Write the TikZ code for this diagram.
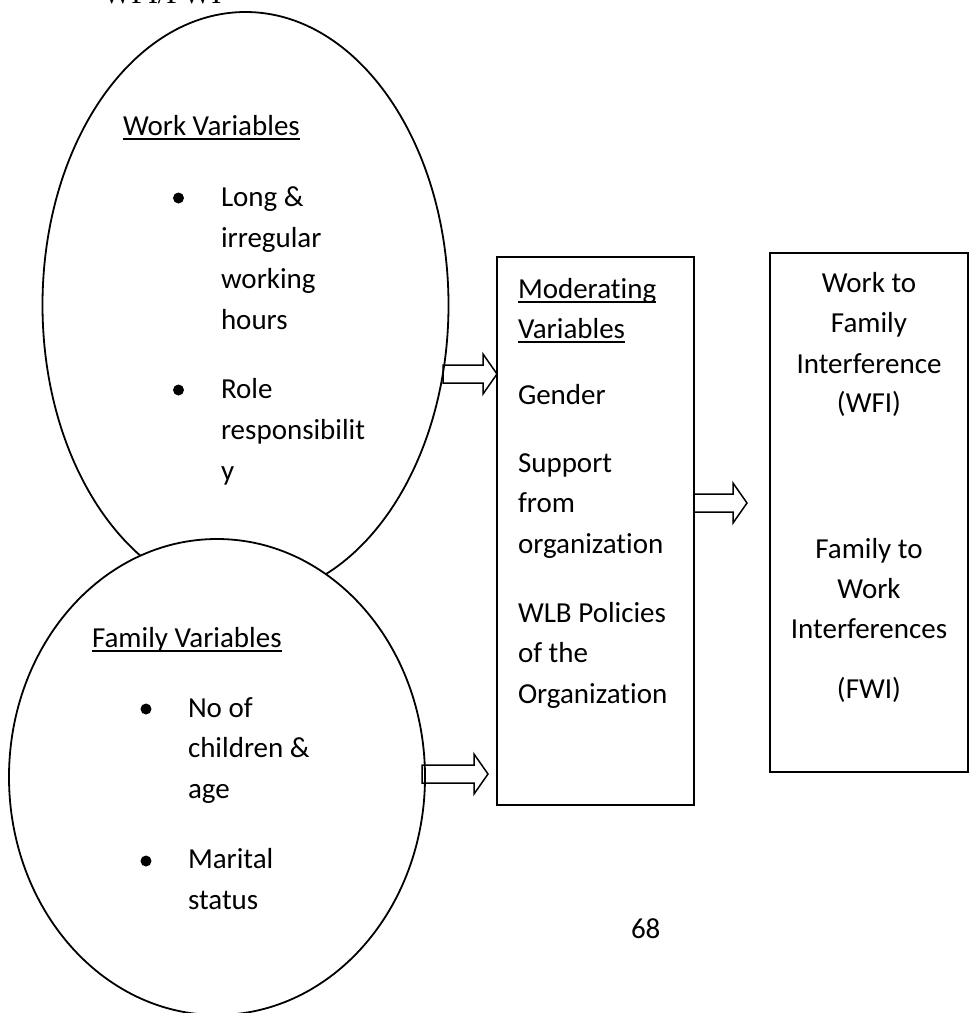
\documentclass[tikz,border=0pt]{standalone}
\usepackage{fontspec}
\setmainfont{Carlito}[Ligatures=NoCommon]
\newfontfamily\headfont{Liberation Serif}
\usepackage{tikz}
\usetikzlibrary{shapes.geometric,calc}
\newcommand\ulined[1]{\setbox0\hbox{#1}\rlap{\rule[-2.6pt]{\wd0}{1pt}}\box0}
\newcommand\hollowarrow[2]{%
  \draw[blockarrow] let \p1=(#1), \p2=(#2) in
    (\x1,\y1+4.5pt) -- (\x2-7pt,\y1+4.5pt) -- (\x2-7pt,\y1+10pt) -- (\x2,\y1)
    -- (\x2-7pt,\y1-10pt) -- (\x2-7pt,\y1-4.5pt) -- (\x1,\y1-4.5pt) -- cycle;}
\tikzset{ %
  ,every node/.style={font=\fontsize{14.5pt}{20pt}\selectfont, inner sep=0, outer sep=0}
  ,oval/.style={draw, ellipse, line width=0.9pt, fill=white}
  ,box/.style={draw, rectangle, line width=0.9pt}
  ,txt/.style={anchor=base west}
  ,ctxt/.style={anchor=base}
  ,dot/.style={circle, fill, minimum size=5.5pt}
  ,blockarrow/.style={line width=0.75pt, line join=miter}
}
\begin{document}
\begin{tikzpicture}[x=0.5pt, y=-0.5pt]
    \useasboundingbox (0,0) rectangle (969,1013);
    % cut-off heading at the top
    \node[txt, font=\headfont\fontsize{15pt}{18pt}\selectfont] (title) at (103,3) {WFI/FWI};

    % the two groups of variables
    \node[oval, minimum width=203pt, minimum height=293pt] (work) at (245.5,305) {};
    \node[oval, minimum width=208pt, minimum height=238pt] (family) at (217,777) {};

    \node[txt] (workhead) at (123,135) {\ulined{Work Variables}};
    \node[dot] (wdot1) at (178.5,198) {};
    \node[dot] (wdot2) at (178.5,390) {};
    \foreach \y/\t in {206/Long \&, 247/irregular, 288/working, 329/hours,
                       398/Role, 439/responsibilit, 480/y}
      \node[txt] (w\y) at (221,\y) {\t};

    \node[txt] (familyhead) at (92,647) {\ulined{Family Variables}};
    \node[dot] (fdot1) at (146,709) {};
    \node[dot] (fdot2) at (146,861) {};
    \foreach \y/\t in {717/No of, 757/children \&, 798/age, 868/Marital, 909/status}
      \node[txt] (f\y) at (188,\y) {\t};

    % moderating variables
    \node[box, minimum width=98.5pt, minimum height=274pt] (mod) at (595.5,531) {};
    \node[txt] (modhead1) at (518,298) {\ulined{Moderating}};
    \node[txt] (modhead2) at (518,338) {\ulined{Variables}};
    \foreach \y/\t in {404/Gender, 472/Support, 512/from, 553/organization,
                       622/WLB Policies, 662/of the, 703/Organization}
      \node[txt] (m\y) at (518,\y) {\t};

    % outcomes
    \node[box, minimum width=99pt, minimum height=259.5pt] (out) at (869,512.5) {};
    \foreach \y/\t in {292/Work to, 332/Family, 373/Interference, 412/(WFI),
                       558/Family to, 598/Work, 638/Interferences, 698/(FWI)}
      \node[ctxt] (o\y) at (869,\y) {\t};

    \node[txt] (pageno) at (631,938) {68};

    % block arrows
    \coordinate (w1) at (443,374);
    \coordinate (m1) at (747,503);
    \coordinate (f1) at (422,774);
    \coordinate (f2) at (488,774);
    \hollowarrow{w1}{mod.west|-w1}
    \hollowarrow{mod.east|-m1}{m1}
    \hollowarrow{f1}{f2}
\end{tikzpicture}
\end{document}
